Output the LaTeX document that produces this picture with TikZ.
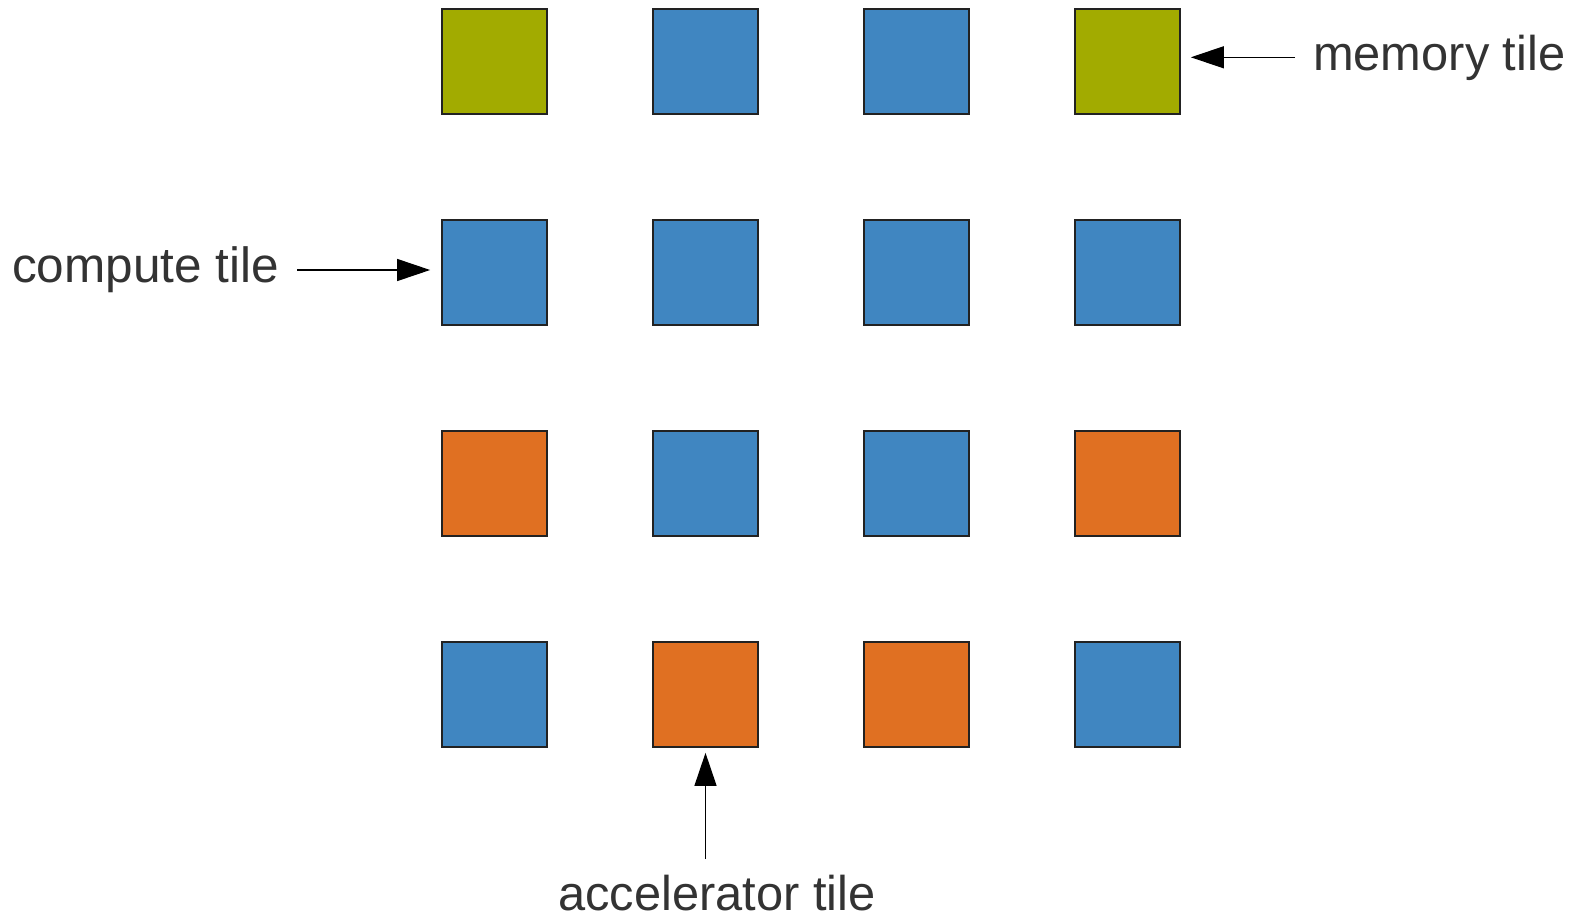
\documentclass[tikz,border=0pt]{standalone}
\usepackage{fontspec}
\setmainfont{Liberation Sans}
\usetikzlibrary{arrows.meta}
\definecolor{tilegreen}{RGB}{162,171,0}
\definecolor{tileblue}{RGB}{64,134,193}
\definecolor{tileorange}{RGB}{224,112,34}
\definecolor{tileedge}{RGB}{34,34,34}
\definecolor{labeltext}{RGB}{51,51,51}
\tikzset{
  tile/.style={draw=tileedge, line width=2.2pt, minimum size=104.5pt, inner sep=0pt},
  mem/.style={tile, fill=tilegreen},
  cpu/.style={tile, fill=tileblue},
  acc/.style={tile, fill=tileorange},
  lbl/.style={anchor=base west, inner sep=0pt, text=labeltext,
    font=\fontsize{48.8}{58}\selectfont},
  pointer/.style={draw=black, line width=1.2pt,
    -{Triangle[length=33pt,width=22pt]}}
}
\begin{document}
\begin{tikzpicture}[x=1pt,y=-1pt]
\useasboundingbox[fill=white] (0,0) rectangle (1575,921);
% tile grid, 211pt pitch
\node[mem] (t11) at (494.5,61.5) {};
\node[cpu] (t12) at (705.5,61.5) {};
\node[cpu] (t13) at (916.5,61.5) {};
\node[mem] (t14) at (1127.5,61.5) {};
\node[cpu] (t21) at (494.5,272.5) {};
\node[cpu] (t22) at (705.5,272.5) {};
\node[cpu] (t23) at (916.5,272.5) {};
\node[cpu] (t24) at (1127.5,272.5) {};
\node[acc] (t31) at (494.5,483.5) {};
\node[cpu] (t32) at (705.5,483.5) {};
\node[cpu] (t33) at (916.5,483.5) {};
\node[acc] (t34) at (1127.5,483.5) {};
\node[cpu] (t41) at (494.5,694.5) {};
\node[acc] (t42) at (705.5,694.5) {};
\node[acc] (t43) at (916.5,694.5) {};
\node[cpu] (t44) at (1127.5,694.5) {};
% labels
\node[lbl] (memlabel) at (1313,70) {memory tile};
\node[lbl, font=\fontsize{49.5}{59}\selectfont] (cpulabel) at (12,282) {compute tile};
\node[lbl] (acclabel) at (558,910) {accelerator tile};
% pointers
\coordinate (memfrom) at (1295,57.3);
\coordinate (cpufrom) at (297,270);
\coordinate (accfrom) at (705.5,859);
\draw[pointer, shorten >=10pt] (memfrom) -- (memfrom -| t14.east);
\draw[pointer, shorten >=11pt] (cpufrom) -- (cpufrom -| t21.west);
\draw[pointer, shorten >=5pt] (accfrom) -- (t42.south);
\end{tikzpicture}
\end{document}
